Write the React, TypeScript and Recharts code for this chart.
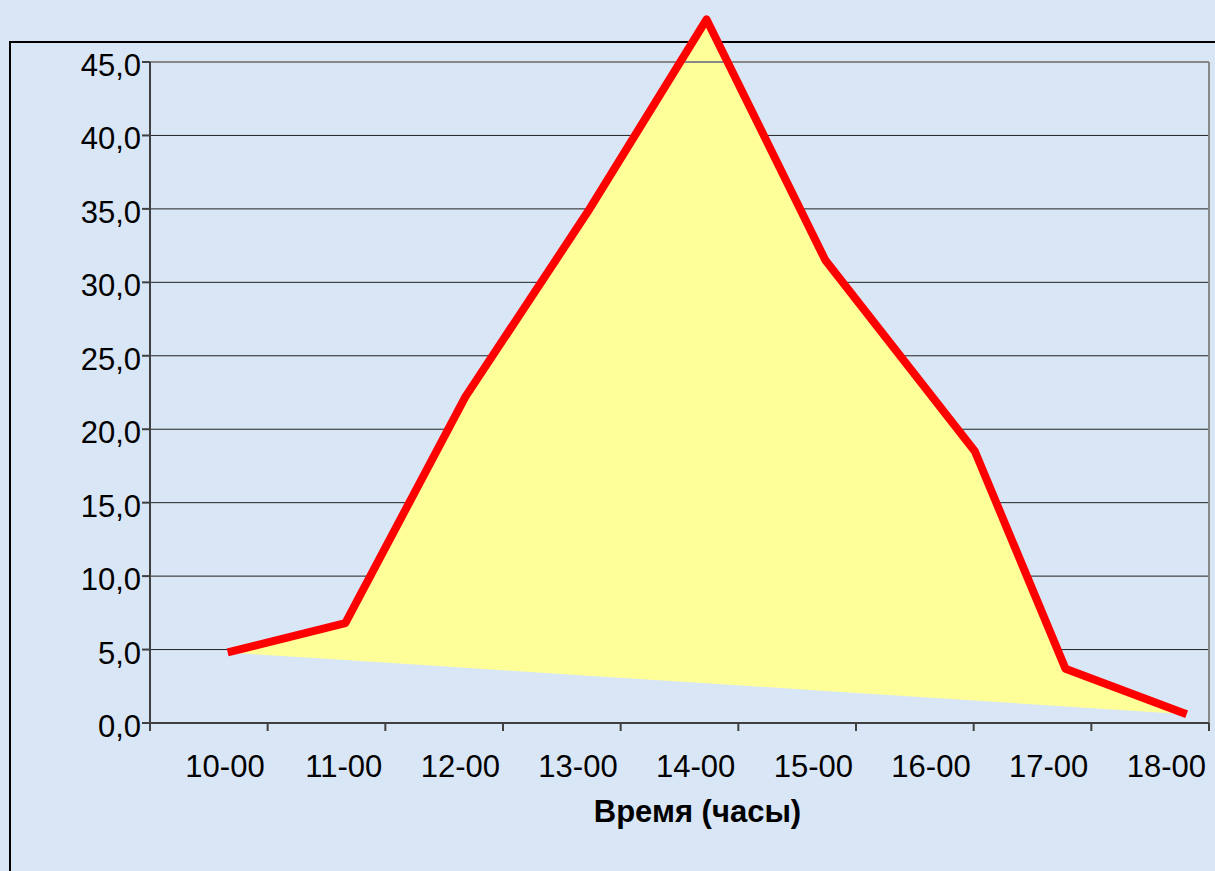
import { ComposedChart, Area, Line, XAxis, YAxis, CartesianGrid, ReferenceLine } from 'recharts';

// временные метки по оси X (подписи делений)
const hours = ['10-00', '11-00', '12-00', '13-00', '14-00', '15-00', '16-00', '17-00', '18-00'];
// положение точек по оси X (в долях интервала) и значения
const pointX = [0.66, 1.66, 2.68, 3.72, 4.73, 5.74, 7.01, 7.78, 8.81];
const values = [4.8, 6.8, 22.2, 34.8, 47.9, 31.5, 18.5, 3.7, 0.6];
const yTicks = [0, 5, 10, 15, 20, 25, 30, 35, 40, 45];
const gridValues = [5, 10, 15, 20, 25, 30, 35, 40];
const xTicks = [0, 1, 2, 3, 4, 5, 6, 7, 8, 9];

const W = 1215;
const H = 871;
const MARGIN = { top: 10, right: 6, bottom: 0, left: 0 };
const Y_AXIS_W = 150;
const X_AXIS_H = 148;
const STEP = (W - MARGIN.left - MARGIN.right - Y_AXIS_W) / hours.length;
const FONT = '"Liberation Sans", Arial, sans-serif';

// заливка: многоугольник, замкнутый хордой от первой до последней точки
const n = values.length;
const chartData = pointX.map((x, i) => {
  const base =
    values[0] + ((values[n - 1] - values[0]) * (x - pointX[0])) / (pointX[n - 1] - pointX[0]);
  return { x, value: values[i], band: [base, values[i]] };
});

const YTick = ({ x, y, payload }: any) => (
  <text x={x} y={y + 14} textAnchor="end" fontSize={31} fontFamily={FONT} fill="#000">
    {Number(payload.value).toFixed(1).replace('.', ',')}
  </text>
);

const XTick = ({ x, y, payload }: any) => {
  const i = payload.value;
  if (i >= hours.length) return null;
  return (
    <text x={x + STEP - 3} y={y + 46} textAnchor="end" fontSize={31} fontFamily={FONT} fill="#000">
      {hours[i]}
    </text>
  );
};

export default function App() {
  return (
    <div
      style={{
        position: 'absolute',
        left: 0,
        top: 0,
        width: W,
        height: H,
        overflow: 'hidden',
        background: '#d9e6f6',
      }}
    >
      <div
        style={{
          position: 'absolute',
          left: 9,
          top: 41,
          width: 1400,
          height: 1000,
          borderLeft: '2px solid #000',
          borderTop: '2px solid #000',
        }}
      />
      <div style={{ position: 'absolute', left: 0, top: 0 }}>
        <ComposedChart width={W} height={H} data={chartData} margin={MARGIN}>
          <CartesianGrid
            vertical={false}
            horizontalValues={gridValues}
            stroke="#222"
            strokeWidth={1}
          />
          <XAxis
            dataKey="x"
            type="number"
            domain={[0, 9]}
            ticks={xTicks}
            interval={0}
            height={X_AXIS_H}
            tickSize={8}
            tickMargin={0}
            stroke="#404040"
            strokeWidth={2}
            tick={<XTick />}
            label={{
              value: 'Время (часы)',
              position: 'insideBottom',
              offset: 49,
              dx: 18,
              fontSize: 31,
              fontWeight: 'bold',
              fontFamily: FONT,
              fill: '#000',
            }}
          />
          <YAxis
            type="number"
            domain={[0, 48.54]}
            ticks={yTicks}
            interval={0}
            width={Y_AXIS_W}
            tickSize={8}
            tickMargin={1}
            axisLine={false}
            tickLine={{ stroke: '#404040', strokeWidth: 2 }}
            tick={<YTick />}
          />
          <ReferenceLine segment={[{ x: 0, y: 45 }, { x: 9, y: 45 }]} stroke="#888" strokeWidth={2} />
          <ReferenceLine segment={[{ x: 9, y: 0 }, { x: 9, y: 45 }]} stroke="#888" strokeWidth={2} />
          <ReferenceLine segment={[{ x: 0, y: 0 }, { x: 0, y: 45 }]} stroke="#404040" strokeWidth={2} />
          <Area
            dataKey="band"
            type="linear"
            fill="#ffff99"
            fillOpacity={1}
            stroke="none"
            isAnimationActive={false}
          />
          <Line
            dataKey="value"
            type="linear"
            stroke="#ff0000"
            strokeWidth={8}
            strokeLinejoin="round"
            strokeLinecap="butt"
            dot={false}
            activeDot={false}
            isAnimationActive={false}
          />
        </ComposedChart>
      </div>
    </div>
  );
}
